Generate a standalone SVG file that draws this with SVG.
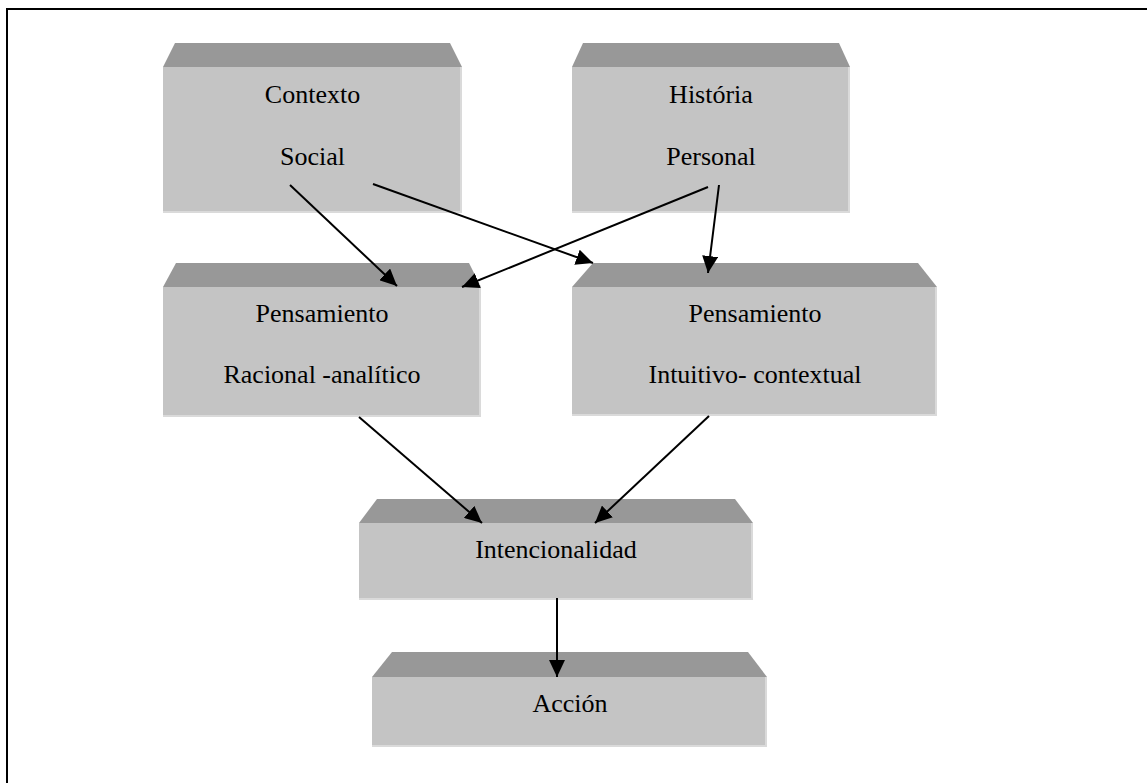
<svg xmlns="http://www.w3.org/2000/svg" width="1147" height="783" viewBox="0 0 1147 783">
<style>
.face{fill:#c4c4c4}
.bevel{fill:#989898}
.edge{fill:none;stroke:#dadada;stroke-width:2}
.lbl{font-family:"Liberation Serif","Times New Roman",serif;font-size:26px;fill:#000;text-anchor:middle}
.conn{stroke:#000;stroke-width:2;fill:none;marker-end:url(#ah)}
</style>
<defs>
<marker id="ah" markerUnits="userSpaceOnUse" markerWidth="18" markerHeight="16" viewBox="0 0 18 16" refX="17" refY="8" orient="auto">
<path d="M0,0 L17,8 L0,16 z" fill="#000"/>
</marker>
</defs>
<rect width="1147" height="783" fill="#fff"/>
<path d="M7,783 V9 H1147" fill="none" stroke="#000" stroke-width="2"/>

<g id="contexto">
<polygon class="bevel" points="175,43 450,43 462,67 163,67"/>
<rect class="face" x="163" y="67" width="299" height="146"/>
<path class="edge" d="M461,67 V212 H163"/>
<text class="lbl" x="312.5" y="103">Contexto</text>
<text class="lbl" x="312.5" y="165">Social</text>
</g>

<g id="historia">
<polygon class="bevel" points="583,43 839,43 850,67 572,67"/>
<rect class="face" x="572" y="67" width="278" height="146"/>
<path class="edge" d="M849,67 V212 H572"/>
<text class="lbl" x="711" y="103">História</text>
<text class="lbl" x="711" y="165">Personal</text>
</g>

<g id="pensamiento-racional">
<polygon class="bevel" points="176,263 469,263 481,287 163,287"/>
<rect class="face" x="163" y="287" width="318" height="130"/>
<path class="edge" d="M480,287 V416 H163"/>
<text class="lbl" x="322" y="322">Pensamiento</text>
<text class="lbl" x="322" y="383">Racional -analítico</text>
</g>

<g id="pensamiento-intuitivo">
<polygon class="bevel" points="593,263 918,263 937,287 572,287"/>
<rect class="face" x="572" y="287" width="365" height="129"/>
<path class="edge" d="M936,287 V415 H572"/>
<text class="lbl" x="755" y="322">Pensamiento</text>
<text class="lbl" x="755" y="383">Intuitivo- contextual</text>
</g>

<g id="intencionalidad">
<polygon class="bevel" points="377,499 735,499 753,523 359,523"/>
<rect class="face" x="359" y="523" width="394" height="77"/>
<path class="edge" d="M752,523 V599 H359"/>
<text class="lbl" x="556" y="558">Intencionalidad</text>
</g>

<g id="accion">
<polygon class="bevel" points="392,652 748,652 767,677 372,677"/>
<rect class="face" x="372" y="677" width="395" height="70"/>
<path class="edge" d="M766,677 V746 H372"/>
<text class="lbl" x="570" y="712">Acción</text>
</g>

<g id="connectors">
<line class="conn" x1="290" y1="185" x2="397" y2="286"/>
<line class="conn" x1="373" y1="184" x2="593" y2="263"/>
<line class="conn" x1="708" y1="187" x2="462" y2="287"/>
<line class="conn" x1="719" y1="185" x2="708" y2="273"/>
<line class="conn" x1="359" y1="417" x2="482" y2="523"/>
<line class="conn" x1="709" y1="416" x2="595" y2="523"/>
<line class="conn" x1="557" y1="598" x2="557" y2="677"/>
</g>
</svg>
